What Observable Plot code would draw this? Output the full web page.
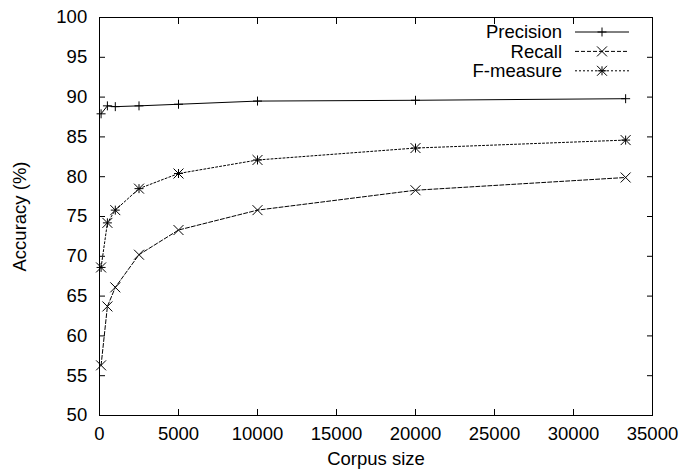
<!DOCTYPE html>
<html><head><meta charset="utf-8">
<script src="https://cdn.jsdelivr.net/npm/d3@7"></script>
<script src="https://cdn.jsdelivr.net/npm/@observablehq/plot@0.6"></script>
<style>
html,body{margin:0;padding:0;background:#fff;}
#chart svg{display:block;}
</style></head><body><div id="chart"></div>
<script>
// ---- data ----
const corpusSize = [100, 500, 1000, 2500, 5000, 10000, 20000, 33300];
const precision  = [87.9, 88.9, 88.8, 88.9, 89.1, 89.5, 89.6, 89.8];
const recall     = [56.3, 63.7, 66.1, 70.2, 73.3, 75.8, 78.3, 79.9];
const fMeasure   = [68.6, 74.2, 75.8, 78.5, 80.4, 82.1, 83.6, 84.6];
const seriesNames = ["Precision", "Recall", "F-measure"];
const xTickValues = [0, 5000, 10000, 15000, 20000, 25000, 30000, 35000];
const yTickValues = [50, 55, 60, 65, 70, 75, 80, 85, 90, 95, 100];
const xLabel = "Corpus size";
const yLabel = "Accuracy (%)";

const seriesValues = [precision, recall, fMeasure];
const rows = [];
seriesNames.forEach((s, i) => corpusSize.forEach((c, j) => rows.push({series: s, x: c, y: seriesValues[i][j]})));
const of = s => rows.filter(d => d.series === s);

const fontFamily = "'Liberation Sans', Arial, Helvetica, sans-serif";
const fs = 18.5;
const styles = {
  "Precision": {dash: null, symbols: ["plus"]},
  "Recall": {dash: "4,2", symbols: ["times"]},
  "F-measure": {dash: "2,2", symbols: ["plus", "times"]}
};
const symR = {plus: 3, times: 4.6};

const marks = [
  Plot.frame({stroke: "#000", strokeWidth: 1}),
  Plot.axisX({anchor: "bottom", ticks: xTickValues, tickSize: -6, tickPadding: 17.5,
    tickFormat: d3.format("d"), label: xLabel, labelAnchor: "center", labelArrow: "none", labelOffset: 49}),
  Plot.axisX({anchor: "top", ticks: xTickValues, tickSize: -6, tickFormat: () => "", label: null}),
  Plot.axisY({anchor: "left", ticks: yTickValues, tickSize: -6, tickPadding: 18.3,
    tickFormat: d3.format("d"), label: yLabel, labelAnchor: "center", labelArrow: "none", labelOffset: 87}),
  Plot.axisY({anchor: "right", ticks: yTickValues, tickSize: -6, tickFormat: () => "", label: null})
];
seriesNames.forEach(s => {
  const st = styles[s];
  marks.push(Plot.line(of(s), {x: "x", y: "y", stroke: "#000", strokeWidth: 1, strokeDasharray: st.dash}));
  st.symbols.forEach(sym => marks.push(Plot.dot(of(s), {x: "x", y: "y", symbol: sym, r: symR[sym], stroke: "#000", strokeWidth: 1})));
});

const chart = Plot.plot({
  width: 682, height: 471,
  marginLeft: 99, marginRight: 30, marginTop: 17, marginBottom: 56,
  style: {fontFamily, fontSize: fs + "px", color: "#000", background: "#fff", overflow: "visible"},
  x: {domain: [0, 35000]},
  y: {domain: [50, 100]},
  marks
});
document.getElementById("chart").appendChild(chart);

// ---- legend (top right, inside the frame) ----
const svg = d3.select(chart);
const lg = svg.append("g").attr("font-family", fontFamily).attr("font-size", fs);
seriesNames.forEach((s, i) => {
  const st = styles[s];
  const y = 32 + i * 19.4;
  lg.append("text").attr("x", 562).attr("y", y).attr("dy", "0.35em").attr("text-anchor", "end").attr("fill", "#000").text(s);
  lg.append("line").attr("x1", 575).attr("x2", 629).attr("y1", y).attr("y2", y)
    .attr("stroke", "#000").attr("stroke-width", 1).attr("stroke-dasharray", st.dash);
  st.symbols.forEach(sym => {
    const type = sym === "plus" ? d3.symbolPlus : d3.symbolTimes;
    lg.append("path").attr("transform", `translate(602,${y})`)
      .attr("d", d3.symbol(type, Math.PI * symR[sym] * symR[sym])())
      .attr("fill", "none").attr("stroke", "#000").attr("stroke-width", 1);
  });
});
</script></body></html>
